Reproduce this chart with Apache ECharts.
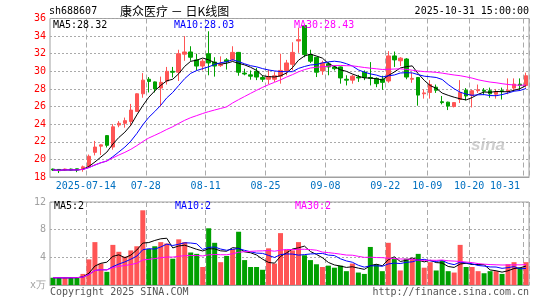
<!DOCTYPE html>
<html><head><meta charset="utf-8">
<script src="https://cdn.jsdelivr.net/npm/echarts@6/dist/echarts.min.js"></script>
<style>html,body{margin:0;padding:0;background:#fff}#c{width:545px;height:300px}</style>
</head><body><div id="c"></div>
<script>
const dates = [
'2025-07-04','2025-07-07','2025-07-08','2025-07-09','2025-07-10','2025-07-11','2025-07-14','2025-07-15','2025-07-16','2025-07-17',
'2025-07-18','2025-07-21','2025-07-22','2025-07-23','2025-07-24','2025-07-25','2025-07-28','2025-07-29','2025-07-30','2025-07-31',
'2025-08-01','2025-08-04','2025-08-05','2025-08-06','2025-08-07','2025-08-08','2025-08-11','2025-08-12','2025-08-13','2025-08-14',
'2025-08-15','2025-08-18','2025-08-19','2025-08-20','2025-08-21','2025-08-22','2025-08-25','2025-08-26','2025-08-27','2025-08-28',
'2025-08-29','2025-09-01','2025-09-02','2025-09-03','2025-09-04','2025-09-05','2025-09-08','2025-09-09','2025-09-10','2025-09-11',
'2025-09-12','2025-09-15','2025-09-16','2025-09-17','2025-09-18','2025-09-19','2025-09-22','2025-09-23','2025-09-24','2025-09-25',
'2025-09-26','2025-09-29','2025-09-30','2025-10-09','2025-10-10','2025-10-13','2025-10-14','2025-10-15','2025-10-16','2025-10-17',
'2025-10-20','2025-10-21','2025-10-22','2025-10-23','2025-10-24','2025-10-27','2025-10-28','2025-10-29','2025-10-30','2025-10-31'];
const opens = [
18.9,18.86,18.8,18.9,18.93,18.95,19.2,20.8,21.5,22.7,
21.4,23.9,24.1,24.3,25.45,27.45,29.1,28.8,28.1,28.9,
30.0,29.9,31.95,32.2,31.3,30.6,32.0,31.05,30.65,31.3,
31.35,32.15,29.8,29.6,30.0,29.3,29.1,29.1,29.45,30.1,
30.8,33.45,35.2,31.9,31.6,30.05,30.85,30.5,30.5,29.1,
29.0,29.35,29.9,29.3,29.2,29.1,28.9,31.75,31.2,31.4,
29.1,29.3,27.45,27.6,28.2,26.55,26.5,26.0,26.8,27.85,
27.25,27.8,27.85,27.8,27.4,27.8,27.75,28.1,28.55,28.4];
const closes = [
18.8,18.72,18.9,18.8,18.8,19.15,20.35,21.4,21.65,21.6,
23.7,24.1,24.4,25.6,27.45,29.0,28.85,28.0,28.75,30.0,
29.9,32.0,32.2,31.6,30.6,31.15,30.95,30.6,30.8,31.1,
32.15,29.9,29.7,29.45,29.35,29.1,29.4,29.5,30.1,30.95,
32.15,33.6,31.9,31.15,29.9,30.95,30.5,30.3,29.25,29.0,
29.45,29.25,29.3,29.2,28.6,28.75,31.75,31.3,31.5,29.35,
29.2,27.3,27.55,28.5,27.85,26.45,26.05,26.45,27.6,27.2,
27.8,27.9,27.75,27.45,27.65,27.7,27.85,28.55,28.4,29.5];
const lows = [
18.7,18.45,18.75,18.75,18.55,18.6,19.05,20.45,20.5,21.35,
21.1,23.65,23.6,23.8,25.4,27.0,27.6,27.6,26.0,28.5,
29.3,28.9,31.2,31.2,30.1,30.1,29.55,29.4,30.5,30.2,
31.2,29.5,29.55,29.05,29.0,28.8,28.55,28.8,28.6,29.55,
30.1,32.1,31.6,30.95,29.35,29.6,29.55,30.1,28.6,28.4,
28.6,28.8,29.0,28.4,28.2,27.9,28.7,30.5,30.6,29.1,
28.7,26.1,26.9,26.9,27.55,26.25,25.6,25.9,26.4,26.7,
25.9,27.55,27.3,27.0,26.9,26.8,27.4,27.8,27.9,28.15];
const highs = [
18.95,18.9,18.95,18.95,18.95,19.3,20.55,22.1,21.7,22.75,
24.0,24.35,24.75,26.3,27.5,29.8,29.35,28.85,29.4,30.5,
30.5,32.45,34.0,32.85,32.0,31.4,34.55,31.6,31.7,31.5,
32.85,32.2,30.3,30.1,30.4,29.55,30.2,29.9,32.0,31.3,
33.3,34.95,35.25,32.45,31.65,31.2,31.05,30.65,30.55,29.55,
29.6,29.6,30.1,31.05,29.3,29.5,32.3,32.25,31.6,31.5,
29.85,29.35,27.95,29.0,28.5,27.2,26.55,26.5,29.0,28.1,
27.9,28.5,28.1,28.15,28.0,28.15,29.2,29.2,29.2,29.85];
const volumes = [
1.05,1.05,1.0,1.1,1.1,1.6,3.7,6.2,3.1,1.9,
5.8,4.8,4.1,5.0,5.6,10.8,5.2,5.6,6.2,6.0,
3.8,6.6,6.2,4.7,4.5,2.6,8.2,6.1,3.3,4.2,
5.2,7.7,3.6,2.6,2.6,2.2,5.3,3.1,7.5,5.1,
5.0,6.2,4.3,3.6,3.0,2.6,2.8,2.5,2.8,2.0,
3.1,1.8,1.6,5.5,3.0,2.0,6.1,3.8,2.1,3.8,
3.8,4.5,2.5,3.3,2.1,3.5,2.0,1.8,5.8,2.6,
2.6,2.0,1.7,2.0,2.0,1.6,3.0,3.3,2.5,3.3];
const tickDates = ['2025-07-14','2025-07-28','2025-08-11','2025-08-25','2025-09-08','2025-09-22','2025-10-09','2025-10-20','2025-10-31'];
const tickLabels = ['2025-07-14','07-28','08-11','08-25','09-08','09-22','10-09','10-20','10-31'];
const priceLegend = ['MA5:28.32','MA10:28.03','MA30:28.43'];
const volLegend = ['MA5:2','MA10:2','MA30:2'];
const maPeriods = [5,10,30];
const maColors = ['#000000','#0000ff','#ff00ff'];

const UP = '#ff5555', DOWN = '#00a000';
const MONO = '"DejaVu Sans Mono", monospace';

function ma(arr, n){
  return arr.map((_, i) => {
    const s = Math.max(0, i - n + 1);
    let sum = 0;
    for (let k = s; k <= i; k++) sum += arr[k];
    return +(sum / (i - s + 1)).toFixed(3);
  });
}
const isTick = (i, v) => tickDates.indexOf(typeof v === 'object' ? v.value : v) >= 0 || tickDates.indexOf(dates[i]) >= 0;

const catData = dates.map((d, i) => i === dates.length - 1 ? {value: d, textStyle: {align: 'right'}} : d);

const chart = echarts.init(document.getElementById('c'), null, {renderer: 'canvas'});
const gridCommon = {left: 50, width: 479, show: true, borderColor: '#a0a0a0', borderWidth: 1, backgroundColor: 'transparent'};
const splitX = {show: true, interval: (i) => tickDates.indexOf(dates[i]) >= 0, lineStyle: {color: '#aaaaaa', type: [5, 3], width: 1}};

const series = [{
  type: 'candlestick', xAxisIndex: 0, yAxisIndex: 0, barWidth: 4,
  data: dates.map((d, i) => [opens[i], closes[i], lows[i], highs[i]]),
  itemStyle: {color: UP, color0: DOWN, borderColor: UP, borderColor0: DOWN, borderWidth: 1},
  animation: false
}, {
  type: 'bar', xAxisIndex: 1, yAxisIndex: 1, barWidth: 5,
  data: volumes.map((v, i) => ({value: v, itemStyle: {color: closes[i] >= opens[i] ? UP : DOWN}})),
  animation: false
}];
maPeriods.forEach((p, k) => {
  series.push({type: 'line', xAxisIndex: 0, yAxisIndex: 0, data: ma(closes, p), symbol: 'none',
    lineStyle: {color: maColors[k], width: 1}, animation: false, z: 3});
  series.push({type: 'line', xAxisIndex: 1, yAxisIndex: 1, data: ma(volumes, p), symbol: 'none',
    lineStyle: {color: maColors[k], width: 1}, animation: false, z: 3});
});

function txt(x, y, text, fill, font, align){
  return {type: 'text', x: x, y: y, silent: true, z: 100,
    style: {text: text, fill: fill, font: font, textAlign: align || 'left', textVerticalAlign: 'middle'}};
}
const legendX = [53, 174, 294];
const graphics = [
  txt(49, 11, 'sh688607', '#000', '10px ' + MONO),
  txt(120, 11, '康众医疗 － 日K线图', '#000', '12px "Noto Sans CJK SC"'),
  txt(529, 11, '2025-10-31 15:00:00', '#000', '10px ' + MONO, 'right'),
  txt(50, 292, 'Copyright 2025 SINA.COM', '#555', '10px ' + MONO),
  txt(529, 292, 'http://finance.sina.com.cn', '#555', '10px ' + MONO, 'right'),
  txt(488, 145, 'sina', 'rgba(185,185,185,0.7)', 'italic bold 17px "Liberation Sans"', 'center')
];
priceLegend.forEach((t, k) => graphics.push(txt(legendX[k], 25, t, maColors[k], '10px ' + MONO)));
volLegend.forEach((t, k) => graphics.push(txt(legendX[k] + 1, 206, t, maColors[k], '10px ' + MONO)));

chart.setOption({
  animation: false,
  backgroundColor: '#ffffff',
  grid: [Object.assign({top: 18.5, height: 158.5}, gridCommon), Object.assign({top: 202, height: 83}, gridCommon)],
  xAxis: [{
    type: 'category', gridIndex: 0, data: catData, boundaryGap: true,
    axisLine: {lineStyle: {color: '#a0a0a0'}}, axisTick: {show: false},
    axisLabel: {interval: (i) => tickDates.indexOf(dates[i]) >= 0,
      formatter: (v) => tickLabels[tickDates.indexOf(v)] || '',
      color: '#0070c0', fontFamily: MONO, fontSize: 10, margin: 4, padding: [0, 6, 0, 0]},
    splitLine: splitX
  }, {
    type: 'category', gridIndex: 1, data: dates, boundaryGap: true,
    axisLine: {lineStyle: {color: '#a0a0a0'}}, axisTick: {show: false}, axisLabel: {show: false},
    splitLine: splitX
  }],
  yAxis: [{
    type: 'value', gridIndex: 0, min: 18, max: 36, interval: 2,
    axisLine: {show: false}, axisTick: {show: false},
    axisLabel: {color: '#ff0000', fontFamily: MONO, fontSize: 10, margin: 4},
    splitLine: {lineStyle: {color: '#aaaaaa', type: [2, 2]}}
  }, {
    type: 'value', gridIndex: 1, min: 0, max: 12, interval: 4,
    axisLine: {show: false}, axisTick: {show: false},
    axisLabel: {color: '#a0a0a0', fontFamily: MONO, fontSize: 10, margin: 4,
      formatter: (v) => v === 0 ? 'x万' : String(v)},
    splitLine: {lineStyle: {color: '#aaaaaa', type: [2, 2]}}
  }],
  series: series,
  graphic: graphics
});
</script>
</body></html>
